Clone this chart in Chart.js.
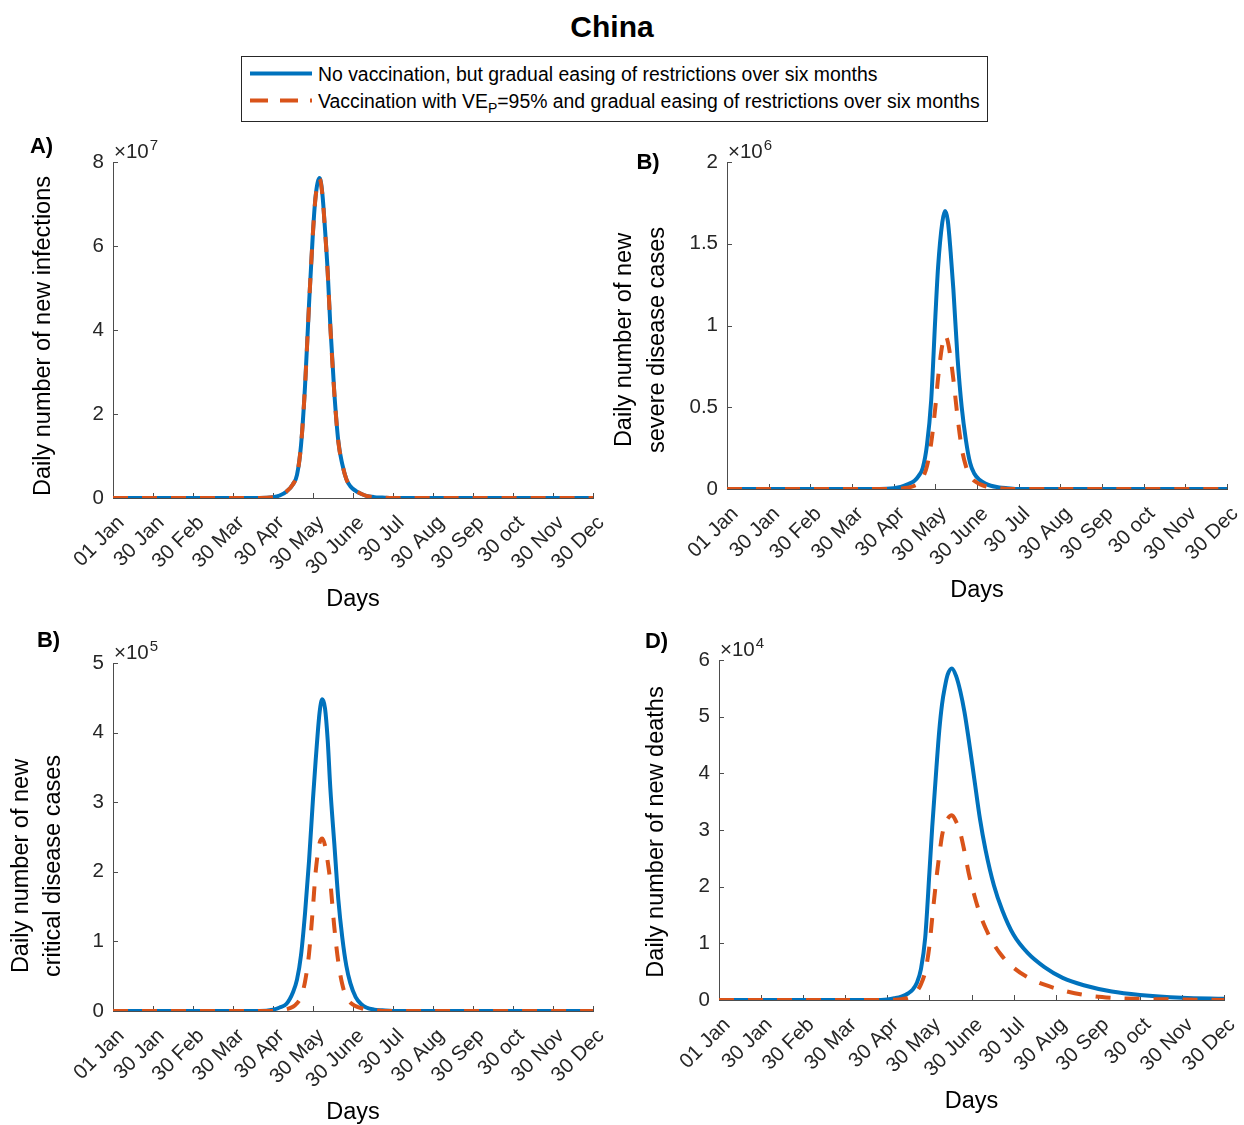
<!DOCTYPE html>
<html>
<head>
<meta charset="utf-8">
<script src="https://cdn.jsdelivr.net/npm/chart.js@4.4.1/dist/chart.umd.min.js"></script>
<style>
  body { margin: 0; background: #fff; width: 1244px; height: 1125px; position: relative; overflow: hidden;
         font-family: "Liberation Sans", Arial, Helvetica, sans-serif; color: #262626; }
  canvas { position: absolute; }
  #title { position: absolute; left: 0; top: 10px; width: 1224px; text-align: center;
           font-size: 30px; font-weight: bold; line-height: 34px; color: #000; }
  #legend { position: absolute; left: 241px; top: 56px; width: 745px; height: 64px; border: 1px solid #262626; }
  #legend svg { position: absolute; left: 0; top: 0; }
  .leg { position: absolute; left: 76px; font-size: 19.4px; line-height: 22px; white-space: nowrap; color: #000; }
  .leg sub { font-size: 14px; vertical-align: -5px; line-height: 0; }
</style>
</head>
<body>
<div id="title">China</div>
<div id="legend">
  <svg width="80" height="64">
    <line x1="8" y1="16.5" x2="70" y2="16.5" stroke="#0072BD" stroke-width="4"/>
    <line x1="8" y1="43.5" x2="70" y2="43.5" stroke="#D95319" stroke-width="4" stroke-dasharray="18 12"/>
  </svg>
  <div class="leg" style="top:5.5px">No vaccination, but gradual easing of restrictions over six months</div>
  <div class="leg" style="top:32.5px">Vaccination with VE<sub>P</sub>=95% and gradual easing of restrictions over six months</div>
</div>

<canvas id="panelA" width="620" height="500" style="left:0;top:120px"></canvas>
<canvas id="panelB" width="644" height="500" style="left:600px;top:120px"></canvas>
<canvas id="panelC" width="620" height="505" style="left:0;top:620px"></canvas>
<canvas id="panelD" width="644" height="505" style="left:600px;top:620px"></canvas>

<script>
/* ─── Data ───────────────────────────────────────────────────────────────── */
const BLUE = '#0072BD';
const ORANGE = '#D95319';
const AXIS = '#4d4d4d';
const FONT = '"Liberation Sans", Arial, Helvetica, sans-serif';

const tickLabels = ['01 Jan', '30 Jan', '30 Feb', '30 Mar', '30 Apr', '30 May', '30 June',
                    '30 Jul', '30 Aug', '30 Sep', '30 oct', '30 Nov', '30 Dec'];

// day of year for every sample
const days = [0, 30, 60, 90, 110, 120, 125, 130, 135, 138, 141, 144, 147, 150, 152, 155, 157, 159, 161, 163,
              166, 169, 172, 175, 178, 182, 186, 190, 196, 202, 210, 220, 232, 245, 260, 280, 300, 330, 360];

// A) new infections, x 10^7
const infectNoVax = [0, 0, 0, 0, 0, 0.02, 0.06, 0.15, 0.33, 0.55, 1.25, 2.65, 4.6, 6.35, 7.2, 7.62, 7.25, 6.4, 5.4, 4.1,
                     2.5, 1.35, 0.8, 0.45, 0.28, 0.17, 0.1, 0.05, 0.02, 0.01, 0, 0, 0, 0, 0, 0, 0, 0, 0];
const infectVax   = [0, 0, 0, 0, 0, 0.02, 0.06, 0.15, 0.33, 0.55, 1.25, 2.64, 4.58, 6.33, 7.18, 7.6, 7.23, 6.38, 5.38, 4.08,
                     2.49, 1.34, 0.8, 0.45, 0.28, 0.17, 0.1, 0.05, 0.02, 0.01, 0, 0, 0, 0, 0, 0, 0, 0, 0];

// B) new severe disease cases, x 10^6
const severeNoVax = [0, 0, 0, 0, 0, 0.005, 0.012, 0.028, 0.05, 0.08, 0.13, 0.27, 0.54, 1.05, 1.36, 1.63, 1.7, 1.64, 1.45, 1.22,
                     0.8, 0.5, 0.3, 0.16, 0.095, 0.055, 0.033, 0.02, 0.01, 0.005, 0, 0, 0, 0, 0, 0, 0, 0, 0];
const severeVax   = [0, 0, 0, 0, 0, 0, 0.003, 0.008, 0.02, 0.035, 0.07, 0.14, 0.28, 0.5, 0.68, 0.88, 0.94, 0.9, 0.8, 0.67,
                     0.44, 0.25, 0.14, 0.08, 0.05, 0.03, 0.017, 0.01, 0.005, 0, 0, 0, 0, 0, 0, 0, 0, 0, 0];

// C) new critical disease cases, x 10^5
const criticalNoVax = [0, 0, 0, 0, 0, 0.02, 0.05, 0.1, 0.27, 0.45, 0.8, 1.4, 2.15, 3.05, 3.6, 4.3, 4.48, 4.35, 3.9, 3.2,
                       2.4, 1.6, 1.05, 0.65, 0.4, 0.2, 0.1, 0.05, 0.02, 0.01, 0, 0, 0, 0, 0, 0, 0, 0, 0];
const criticalVax   = [0, 0, 0, 0, 0, 0, 0.01, 0.025, 0.06, 0.11, 0.2, 0.42, 0.82, 1.5, 2.0, 2.42, 2.48, 2.38, 2.15, 1.85,
                       1.2, 0.7, 0.38, 0.2, 0.12, 0.07, 0.04, 0.02, 0.01, 0, 0, 0, 0, 0, 0, 0, 0, 0, 0];

// D) new deaths, x 10^4
const deathsNoVax = [0, 0, 0, 0, 0, 0.01, 0.03, 0.06, 0.12, 0.18, 0.3, 0.55, 1.1, 2.25, 3.05, 4.1, 4.75, 5.22, 5.52, 5.74,
                     5.85, 5.72, 5.45, 5.08, 4.6, 3.9, 3.2, 2.65, 2.02, 1.58, 1.15, 0.83, 0.58, 0.39, 0.26, 0.15, 0.09, 0.04, 0.02];
const deathsVax   = [0, 0, 0, 0, 0, 0, 0.005, 0.015, 0.04, 0.08, 0.15, 0.28, 0.5, 0.95, 1.45, 2.15, 2.55, 2.9, 3.1, 3.2,
                     3.26, 3.15, 2.95, 2.62, 2.24, 1.85, 1.52, 1.27, 0.98, 0.77, 0.57, 0.4, 0.27, 0.17, 0.09, 0.04, 0.02, 0.01, 0];

/* ─── Text + inward tick marks (MATLAB look) ─────────────────────────────── */
const panelText = {
  id: 'panelText',
  beforeDatasetsDraw(chart) {
    const ctx = chart.ctx, a = chart.chartArea, sx = chart.scales.x, sy = chart.scales.y;
    ctx.save();
    ctx.strokeStyle = AXIS; ctx.lineWidth = 1;
    ctx.beginPath();
    sx.ticks.forEach(t => {
      const px = Math.round(sx.getPixelForValue(t.value)) + 0.5;
      ctx.moveTo(px, a.bottom); ctx.lineTo(px, a.bottom - 5);
    });
    sy.ticks.forEach(t => {
      const py = Math.round(sy.getPixelForValue(t.value)) + 0.5;
      ctx.moveTo(a.left, py); ctx.lineTo(a.left + 5, py);
    });
    ctx.stroke();
    ctx.restore();
  },
  afterDraw(chart, args, o) {
    const ctx = chart.ctx, a = chart.chartArea;
    ctx.save();
    ctx.fillStyle = '#000';
    // panel letter
    ctx.font = 'bold 22px ' + FONT;
    ctx.textAlign = 'center'; ctx.textBaseline = 'middle';
    ctx.fillText(o.letter, o.letterX, o.letterY);
    // exponent
    ctx.fillStyle = '#262626';
    ctx.textAlign = 'left'; ctx.textBaseline = 'alphabetic';
    ctx.font = '20.5px ' + FONT;
    ctx.fillText('\u00d710', a.left + 1, a.top - 4);
    const w = ctx.measureText('\u00d710').width;
    ctx.font = '15px ' + FONT;
    ctx.fillText(o.exponent, a.left + 1 + w + 1, a.top - 12);
    // x title
    ctx.fillStyle = '#000';
    ctx.font = '23.5px ' + FONT;
    ctx.textAlign = 'center'; ctx.textBaseline = 'middle';
    ctx.fillText('Days', (a.left + a.right) / 2, a.bottom + 102);
    // y title lines
    o.yTitle.forEach((line, i) => {
      ctx.save();
      ctx.translate(o.yTitleX[i], o.yTitleY);
      ctx.rotate(-Math.PI / 2);
      ctx.fillText(line, 0, 0);
      ctx.restore();
    });
    ctx.restore();
  }
};

function makePanel(id, area, noVax, vax, yMax, yStep, text) {
  const canvas = document.getElementById(id);
  const W = canvas.width, H = canvas.height;
  const pts = arr => arr.map((v, i) => ({ x: days[i], y: v }));
  const tickFont = { family: FONT, size: 20.5 };
  return new Chart(canvas, {
    type: 'line',
    data: { datasets: [
      { label: 'No vaccination, but gradual easing of restrictions over six months',
        data: pts(noVax), borderColor: BLUE, borderWidth: 4, order: 2 },
      { label: 'Vaccination with VEP=95% and gradual easing of restrictions over six months',
        data: pts(vax), borderColor: ORANGE, borderWidth: 4, borderDash: [15, 14], order: 1 },
    ]},
    options: {
      responsive: false, animation: false, devicePixelRatio: 1,
      layout: { autoPadding: false, padding: { left: 0, top: area.top, right: W - area.right, bottom: 0 } },
      elements: { point: { radius: 0 }, line: { cubicInterpolationMode: 'monotone', borderCapStyle: 'butt' } },
      plugins: { legend: { display: false }, tooltip: { enabled: false }, panelText: text },
      scales: {
        x: {
          type: 'linear', min: 0, max: 360,
          afterFit: s => { s.height = H - area.bottom; s.paddingLeft = 0; s.paddingRight = 0; },
          grid: { display: false, drawTicks: false },
          border: { display: true, color: AXIS, width: 1 },
          ticks: { stepSize: 30, autoSkip: false, minRotation: 45, maxRotation: 45, padding: 13, labelOffset: 8,
                   font: tickFont, color: '#262626', callback: v => tickLabels[Math.round(v / 30)] },
        },
        y: {
          min: 0, max: yMax,
          afterFit: s => { s.width = area.left; s.paddingTop = 0; s.paddingBottom = 0; },
          grid: { display: false, drawTicks: false },
          border: { display: true, color: AXIS, width: 1 },
          ticks: { stepSize: yStep, padding: 9, font: tickFont, color: '#262626', callback: v => String(v) },
        },
      },
    },
    plugins: [panelText],
  });
}

makePanel('panelA', { left: 113, top: 42, right: 593, bottom: 378 }, infectNoVax, infectVax, 8, 2,
  { letter: 'A)', letterX: 41.5, letterY: 27, exponent: '7',
    yTitle: ['Daily number of new infections'], yTitleX: [44], yTitleY: 216 });

makePanel('panelB', { left: 127, top: 42, right: 627, bottom: 369 }, severeNoVax, severeVax, 2, 0.5,
  { letter: 'B)', letterX: 48, letterY: 43, exponent: '6',
    yTitle: ['Daily number of new', 'severe disease cases'], yTitleX: [25, 58], yTitleY: 220 });

makePanel('panelC', { left: 113, top: 43, right: 593, bottom: 391 }, criticalNoVax, criticalVax, 5, 1,
  { letter: 'B)', letterX: 48.5, letterY: 21, exponent: '5',
    yTitle: ['Daily number of new', 'critical disease cases'], yTitleX: [22, 54], yTitleY: 246 });

makePanel('panelD', { left: 119, top: 40, right: 624, bottom: 380 }, deathsNoVax, deathsVax, 6, 1,
  { letter: 'D)', letterX: 56.5, letterY: 22, exponent: '4',
    yTitle: ['Daily number of new deaths'], yTitleX: [57], yTitleY: 212 });
</script>
</body>
</html>
